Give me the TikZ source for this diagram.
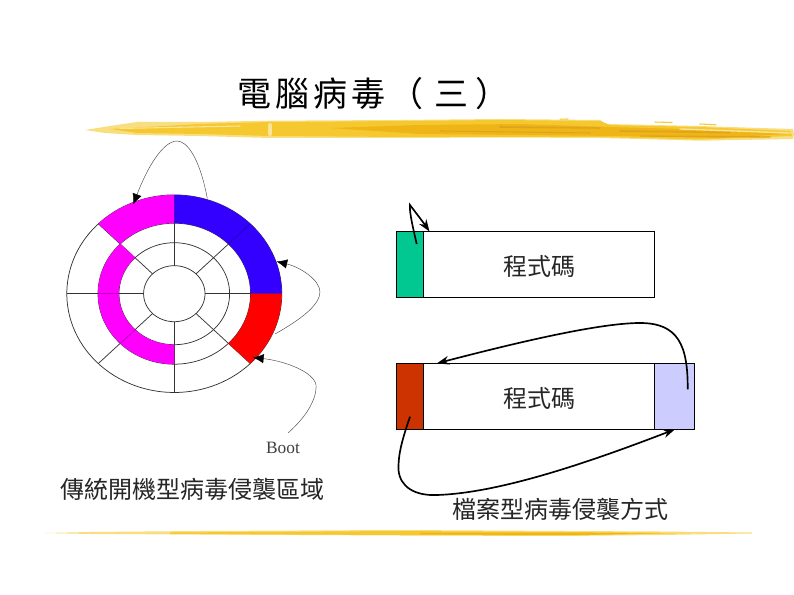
\documentclass[tikz,border=0pt]{standalone}
\usepackage{fontspec}
\setmainfont{Liberation Serif}
\newfontfamily\cjk{Noto Sans CJK TC}
\newfontfamily\cjktitle[LetterSpace=12,Kerning=Off]{Noto Sans CJK TC}
\usetikzlibrary{arrows.meta}
\definecolor{magentaX}{HTML}{FF00FF}
\definecolor{blueX}{HTML}{3300FF}
\definecolor{redX}{HTML}{FF0000}
\definecolor{greenX}{HTML}{00C890}
\definecolor{rustX}{HTML}{CC3300}
\definecolor{lavX}{HTML}{CCCCFF}
\definecolor{brA}{HTML}{F9DE80}
\definecolor{brB}{HTML}{F6C830}
\definecolor{brC}{HTML}{EFB416}
\definecolor{brD}{HTML}{DFA41E}
\definecolor{brE}{HTML}{FBE39A}
\tikzset{
  boxline/.style={draw=black,line width=0.5pt},
  disk/.style={draw=black!80,line width=0.55pt},
  thinarrow/.style={draw=black!70,line width=0.35pt,-{Latex[length=8pt,width=7pt,black]}},
  boldarrow/.style={draw=black,line width=1.25pt,-{Stealth[length=9pt,width=6.5pt,black]}},
  label/.style={font=\cjk\fontsize{18}{20}\selectfont,text=black!85,inner sep=0pt},
  streak/.style={line cap=round,line width=#1},
  streak/.default=1pt,
}
\newcommand{\bandsector}[7]{% start end rxo ryo rxi ryi color
  \fill[#7] plot[variable=\t,domain=#1:#2,samples=40] ({174.3+#3*cos(\t)},{293.7-#4*sin(\t)})
    -- plot[variable=\t,domain=#2:#1,samples=40] ({174.3+#5*cos(\t)},{293.7-#6*sin(\t)}) -- cycle;
}
\begin{document}
\begin{tikzpicture}[x=0.75pt,y=-0.75pt]
\useasboundingbox (0,0) rectangle (794,595);
\fill[white] (0,0) rectangle (794,595);
% top brush
\fill[brA] (85,130) -- (110,126) -- (137,122) -- (200,122) -- (270,120.7) -- (400,120) -- (500,119) -- (600,120)
  -- (606,124) -- (700,126) -- (760,128) -- (793,129) -- (794,134) -- (793,139) -- (700,140.7) -- (640,139) -- (600,138)
  -- (500,137.5) -- (400,138) -- (270,138) -- (200,136) -- (137,135) -- (105,133) -- cycle;
\fill[brB] (110,129) -- (200,124) -- (270,122) -- (400,121) -- (500,120) -- (600,121)
  -- (610,125) -- (700,127) -- (790,131) -- (792,136) -- (700,139.5) -- (640,138) -- (600,137)
  -- (500,137) -- (400,137) -- (270,136) -- (200,134) -- (137,133) -- cycle;
\fill[brC] (330,128) -- (420,125) -- (520,124) -- (610,127) -- (720,130) -- (785,134)
  -- (720,138) -- (620,136) -- (520,135) -- (420,134) -- cycle;
\draw[brD,streak=1.2pt] (500,127) -- (600,128);
\draw[brD,streak=1.2pt] (620,131) -- (730,132.5);
\draw[brD,streak=1pt] (640,136) -- (770,137);
\draw[brD,streak=0.8pt] (440,131) -- (590,133);
\draw[brE,streak=3pt] (270,125) -- (270,134);
\draw[brE,streak=1pt] (680,129) -- (790,133);
\draw[brE,streak=0.8pt] (120,128.5) -- (240,126);
\draw[brB,streak=0.8pt] (560,119.2) -- (568,119);
\draw[brB,streak=0.8pt] (655,122) -- (672,122.5);
\draw[brB,streak=0.8pt] (700,124) -- (716,124.8);
% bottom brush
\fill[brA] (45,533) -- (90,532) -- (200,531) -- (400,530) -- (565,531) -- (660,531.5) -- (752,532.5) -- (752,533.5)
  -- (660,535) -- (565,536) -- (400,535.5) -- (200,534.5) -- (90,534) -- cycle;
\fill[brB] (170,532.5) -- (400,531) -- (565,532) -- (690,533) -- (565,535.5) -- (400,535) -- (170,534) -- cycle;
\fill[brC] (420,533) -- (565,532.8) -- (660,533.5) -- (565,535) -- (420,534.4) -- cycle;
% title
\node[font=\cjktitle\fontsize{25.5}{28}\selectfont,anchor=west,inner sep=0pt,text=black] (title) at (237,94) {電腦病毒（\hspace{8.5pt}三\hspace{5pt}）};
% disk
\foreach \rx/\ry in {107.5/98.8,76.3/70.5,55.3/51,30.7/28}
  \draw[disk] plot[variable=\t,domain=0:360,samples=120] ({174.3+\rx*cos(\t)},{293.7-\ry*sin(\t)}) -- cycle;
\foreach \a in {0,45,...,315}
  \draw[disk] ({174.3+30.7*cos(\a)},{293.7-28*sin(\a)}) -- ({174.3+107.5*cos(\a)},{293.7-98.8*sin(\a)});
\bandsector{90}{135}{107.5}{98.8}{76.3}{70.5}{magentaX}
\bandsector{0}{90}{107.5}{98.8}{76.3}{70.5}{blueX}
\bandsector{-45}{0}{107.5}{98.8}{76.3}{70.5}{redX}
\bandsector{135}{270}{76.3}{70.5}{55.3}{51}{magentaX}
\draw[blueX!70!black,line width=0.5pt] ({174.3+76.3*cos(45)},{293.7-70.5*sin(45)}) -- ({174.3+107.5*cos(45)},{293.7-98.8*sin(45)});
\draw[magentaX!70!black,line width=0.5pt] ({174.3-76.3},293.7) -- ({174.3-55.3},293.7);
\draw[magentaX!70!black,line width=0.5pt] ({174.3+76.3*cos(225)},{293.7-70.5*sin(225)}) -- ({174.3+55.3*cos(225)},{293.7-51*sin(225)});
% disk arrows
\coordinate (a1s) at (207.3,198.3); \coordinate (a1t) at (133.3,204.5);
\coordinate (a2s) at (275,334); \coordinate (a2t) at (276.5,261.5);
\coordinate (a3s) at (288.3,432.7); \coordinate (a3t) at (253,357.5);
\draw[thinarrow] (a1s) .. controls (199,155) and (186,141) .. (177,141) .. controls (163,141) and (147,168) .. (a1t);
\draw[thinarrow] (a2s) .. controls (300,320) and (320,305) .. (320,292) .. controls (320,280) and (300,267) .. (a2t);
\draw[thinarrow] (a3s) .. controls (305,418) and (317,400) .. (316,385) .. controls (314,372) and (285,361) .. (a3t);
\node[font=\fontsize{13}{15}\selectfont,inner sep=0pt,text=black!75] (boot) at (283,447.5) {Boot};
\node[label,anchor=west] (cap1) at (60,489) {傳統開機型病毒侵襲區域};
% boxes
\draw[boxline,fill=white] (396.7,231.3) rectangle (654.3,297.3);
\draw[boxline,fill=greenX] (396.7,231.3) rectangle (423.3,297.3);
\node[label] (code1) at (539.5,266) {程式碼};
\draw[boxline,fill=white] (396.7,363.3) rectangle (694.3,429.3);
\draw[boxline,fill=rustX] (396.7,363.3) rectangle (423.3,429.3);
\draw[boxline,fill=lavX] (654.3,363.3) rectangle (694.3,429.3);
\node[label] (code2) at (539.5,398) {程式碼};
\node[label,anchor=west] (cap2) at (452,509) {檔案型病毒侵襲方式};
% box arrows
\coordinate (b1s) at (416.7,244); \coordinate (b1t) at (429.5,231.5);
\coordinate (b2s) at (687.7,389.3); \coordinate (b2t) at (437,363.3);
\coordinate (b3s) at (410,416.7); \coordinate (b3t) at (675,429.3);
\draw[boldarrow] (b1s) .. controls (414,232) and (409,212) .. (410,205) .. controls (413,209) and (423,222) .. (b1t);
\draw[boldarrow] (b2s) .. controls (688,345) and (678,323) .. (640,323) .. controls (595,323) and (500,347) .. (b2t);
\draw[boldarrow] (b3s) .. controls (402,440) and (398,455) .. (398.5,470) .. controls (400,487) and (415,496) .. (437,495) .. controls (500,493) and (590,462) .. (b3t);
\end{tikzpicture}
\end{document}
